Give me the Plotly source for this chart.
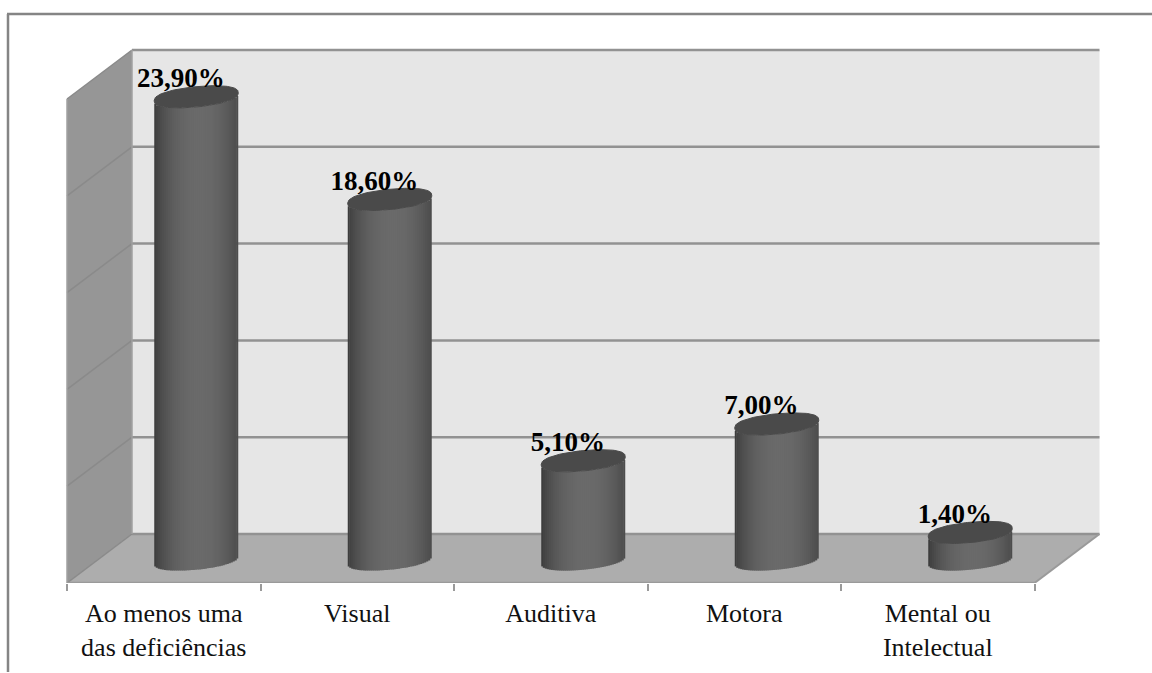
import numpy as np
import plotly.graph_objects as go

categories = ["Ao menos uma<br>das deficiências", "Visual", "Auditiva", "Motora", "Mental ou<br>Intelectual"]
values = [23.9, 18.6, 5.1, 7.0, 1.4]
value_labels = ["23,90%", "18,60%", "5,10%", "7,00%", "1,40%"]
grid_values = [0, 5, 10, 15, 20, 25]

W, H = 1152, 673
PX_X = 193.5      # pixels per category
PX_Y = 19.36      # pixels per value unit
X0_PX = 196.25    # pixel of first cylinder axis
Y0_PX = 559.5     # pixel of value 0 on the cylinder axis
AXIS_PX = 583

DX = 32.5 / PX_X              # half depth, in category units
DY_BACK = (Y0_PX - 534) / PX_Y
DY_FRONT = (Y0_PX - AXIS_PX) / PX_Y
n = len(categories)
L, R = -0.5, n - 0.5

RX = 42 / PX_X
RY = 10.2 / PX_Y
TILT = 4.0 / PX_Y

GRID = "#929292"
shapes = []


def poly(pts, fill, line=None, width=0):
    path = "M " + " L ".join(f"{x},{y}" for x, y in pts) + " Z"
    shapes.append(dict(type="path", path=path, xref="x", yref="y", fillcolor=fill,
                       line=dict(color=line or "rgba(0,0,0,0)", width=width), layer="below"))


def seg(x0, y0, x1, y1, color=GRID, width=2.5):
    shapes.append(dict(type="line", xref="x", yref="y", x0=x0, y0=y0, x1=x1, y1=y1,
                       line=dict(color=color, width=width), layer="below"))


top = grid_values[-1]
# back wall, left wall, floor
poly([(L + DX, DY_BACK), (R + DX, DY_BACK), (R + DX, top + DY_BACK), (L + DX, top + DY_BACK)], "#E6E6E6")
poly([(L - DX, DY_FRONT), (L + DX, DY_BACK), (L + DX, top + DY_BACK), (L - DX, top + DY_FRONT)], "#969696")
poly([(L - DX, DY_FRONT), (R - DX, DY_FRONT), (R + DX, DY_BACK), (L + DX, DY_BACK)], "#ADADAD")
for v in grid_values:
    seg(L + DX, v + DY_BACK, R + DX, v + DY_BACK)
    seg(L - DX, v + DY_FRONT, L + DX, v + DY_BACK, color="#8A8A8A", width=1.5)
seg(L - DX, DY_FRONT, L - DX, top + DY_FRONT, color="#A0A0A0", width=1.5)
seg(L + DX, DY_BACK, L + DX, top + DY_BACK, color="#A0A0A0", width=1.5)
seg(L - DX, DY_FRONT, R - DX, DY_FRONT, color="#9A9A9A", width=2.5)
seg(R - DX, DY_FRONT, R + DX, DY_BACK, color="#9A9A9A", width=2)

# outer frame (left and top only, as in the picture)
shapes.append(dict(type="line", xref="paper", yref="paper", x0=8 / W, x1=8 / W, y0=(AXIS_PX - 672) / AXIS_PX,
                   y1=(AXIS_PX - 14) / AXIS_PX, line=dict(color="#858585", width=2.5), layer="below"))
shapes.append(dict(type="line", xref="paper", yref="paper", x0=7 / W, x1=1, y0=(AXIS_PX - 14) / AXIS_PX,
                   y1=(AXIS_PX - 14) / AXIS_PX, line=dict(color="#858585", width=2.5), layer="below"))


def shade(u):
    s = np.clip(1 - ((u - 0.08) / 1.08) ** 2, 0, 1)
    g = int(round(0x38 + (0x6A - 0x38) * s ** 0.75))
    return f"rgb({g},{g},{g})"


EXP = 0.8   # slightly fuller than a true ellipse


def fuller(a):
    return np.sign(a) * np.abs(a) ** EXP


fig = go.Figure()
STRIPS = 42
us = (np.arange(STRIPS) + 0.5) / STRIPS * 2 - 1
strip = 2 * RX / STRIPS
for i, v in enumerate(values):
    # each strip of the cylinder is a bar of height v, resting on the front arc of the base
    arc = -RY * fuller(np.sqrt(1 - us ** 2)) + TILT * us
    fig.add_trace(go.Bar(
        x=i + us * RX, y=[v] * STRIPS, base=arc,
        width=[strip] + [strip * 1.5] * (STRIPS - 2) + [strip],
        marker=dict(color=[shade(u) for u in us], line=dict(width=0)),
        showlegend=False, hoverinfo="skip"))
    t = np.linspace(0, 2 * np.pi, 120)
    fig.add_trace(go.Scatter(
        x=i + RX * np.cos(t), y=v + RY * fuller(np.sin(t)) + TILT * np.cos(t), mode="lines",
        fill="toself", fillcolor="#4A4A4A", line=dict(color="#4A4A4A", width=1),
        showlegend=False, hoverinfo="skip"))

fig.add_trace(go.Scatter(
    x=[i - 0.08 for i in range(n)], y=[v + 0.85 for v in values], mode="text", text=value_labels,
    textposition="middle center",
    textfont=dict(family="Liberation Serif", size=27, color="#000000", weight="bold"),
    showlegend=False, hoverinfo="skip"))

fig.update_layout(
    width=W, height=H, autosize=False, margin=dict(l=0, r=0, t=0, b=H - AXIS_PX, pad=0),
    paper_bgcolor="white", plot_bgcolor="white", barmode="overlay", shapes=shapes,
    xaxis=dict(range=[-X0_PX / PX_X, (W - X0_PX) / PX_X], showgrid=False, zeroline=False, showline=False,
               tickmode="array", tickvals=[i - DX for i in range(n)], ticktext=categories, ticks="", tickangle=0,
               ticklabelstandoff=12, tickfont=dict(family="Liberation Serif", size=26, color="#111111"),
               minor=dict(tickmode="array", tickvals=[i + L - DX for i in range(n + 1)], ticks="outside",
                          ticklen=7, tickwidth=2, tickcolor="#9A9A9A", showgrid=False)),
    yaxis=dict(range=[(Y0_PX - AXIS_PX) / PX_Y, Y0_PX / PX_Y], visible=False),
)

fig.write_html("out.html", post_script="document.body.style.margin='0';",
               config=dict(displayModeBar=False))
